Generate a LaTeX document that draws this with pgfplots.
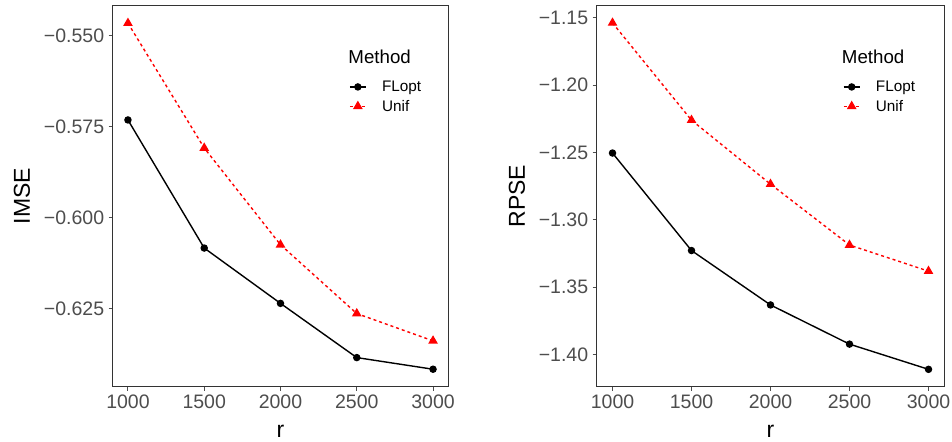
\documentclass[border=0pt]{standalone}
\usepackage{fontspec}
\setmainfont{Liberation Sans}
\usepackage{pgfplots}
\pgfplotsset{compat=1.18}
\definecolor{tickgray}{HTML}{4D4D4D}
\definecolor{framegray}{HTML}{333333}
\pgfplotsset{
  ggpanel/.style={
    scale only axis,
    width=335.6bp, height=381bp,
    xmin=900, xmax=3100,
    xtick={1000,1500,2000,2500,3000},
    xticklabels={1000,1500,2000,2500,3000},
    axis line style={framegray, line width=1.1bp},
    tick style={tickgray, line width=1bp},
    tick align=outside,
    major tick length=4bp,
    xtick pos=bottom, ytick pos=left,
    ticklabel style={font=\fontsize{19.5bp}{22bp}\selectfont, text=tickgray},
    xticklabel style={yshift=-1bp},
    yticklabel style={xshift=-1bp},
    label style={font=\fontsize{23bp}{26bp}\selectfont},
    xlabel={r},
    xlabel style={yshift=-9bp},
    ylabel style={yshift=7bp},
    legend cell align=left,
    legend style={draw=none, fill=none, inner sep=0pt, row sep=4bp, column sep=14bp,
      font=\fontsize{15.3bp}{17bp}\selectfont,
      nodes={inner sep=1.5bp}},
    legend image code/.code={
      \draw[mark repeat=2, mark phase=2] plot coordinates {(0bp,0bp) (8bp,0bp) (16bp,0bp)};},
  },
  flopt/.style={black, line width=1.4bp, mark=*, mark size=3bp, mark options={solid}},
  unif/.style={red, line width=1.4bp, dash pattern=on 3bp off 3bp, mark=triangle*, mark size=4.2bp, mark options={solid}},
}
\begin{document}
\begin{tikzpicture}
\path[use as bounding box] (0bp,0bp) rectangle (952bp,442bp);
% left panel: IMSE
\begin{axis}[ggpanel,
  at={(112.7bp,55.3bp)}, anchor=south west,
  ymin=-0.6465, ymax=-0.5418,
  ytick={-0.625,-0.600,-0.575,-0.550},
  yticklabels={−0.625,−0.600,−0.575,−0.550},
  ylabel={IMSE},
  legend style={at={(rel axis cs:0.704,0.807)}, anchor=north west},
]
\addplot[flopt] coordinates {(1000,-0.5732) (1500,-0.6084) (2000,-0.6236) (2500,-0.6385) (3000,-0.6417)};
\addlegendentry{FLopt}
\addplot[unif] coordinates {(1000,-0.5466) (1500,-0.5809) (2000,-0.6075) (2500,-0.6264) (3000,-0.6339)};
\addlegendentry{Unif}
\node[anchor=west, inner sep=0pt, font=\fontsize{18.7bp}{21bp}\selectfont] at (rel axis cs:0.702,0.865) {Method};
\end{axis}
% right panel: RPSE
\begin{axis}[ggpanel,
  at={(596.7bp,55.3bp)}, anchor=south west, width=347.6bp,
  ymin=-1.424, ymax=-1.1411,
  ytick={-1.40,-1.35,-1.30,-1.25,-1.20,-1.15},
  yticklabels={−1.40,−1.35,−1.30,−1.25,−1.20,−1.15},
  ylabel={RPSE},
  legend style={at={(rel axis cs:0.708,0.807)}, anchor=north west},
]
\addplot[flopt] coordinates {(1000,-1.2505) (1500,-1.3229) (2000,-1.3633) (2500,-1.3924) (3000,-1.4111)};
\addlegendentry{FLopt}
\addplot[unif] coordinates {(1000,-1.1539) (1500,-1.2261) (2000,-1.2736) (2500,-1.3188) (3000,-1.3382)};
\addlegendentry{Unif}
\node[anchor=west, inner sep=0pt, font=\fontsize{18.7bp}{21bp}\selectfont] at (rel axis cs:0.705,0.865) {Method};
\end{axis}
\end{tikzpicture}
\end{document}
